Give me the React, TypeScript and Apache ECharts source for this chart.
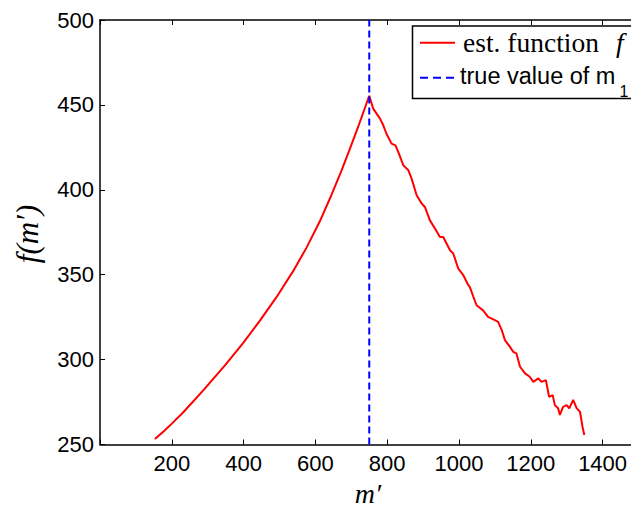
import React, { useEffect, useRef } from "react";
import * as echarts from "echarts";

// estimated function f(m')
const mValues = [
  153, 180, 200, 232, 287, 348, 399, 445, 492, 538, 575, 612, 645, 673,
  696, 719, 738, 750,
  761, 780, 789, 798, 812, 823, 831, 845, 859, 868, 882, 896, 905, 919, 933,
  947, 956, 975, 984, 998, 1012, 1026, 1030, 1040, 1049, 1067, 1081, 1100,
  1109, 1119, 1128, 1142, 1151, 1160, 1170, 1184, 1197, 1207, 1221, 1230,
  1242, 1251, 1261, 1267, 1276, 1281, 1290, 1300, 1307, 1318, 1328, 1337,
  1344, 1349,
];
const fValues = [
  253.2, 258.3, 262.3, 269.0, 281.7, 296.6, 309.9, 322.8, 336.9, 352.1, 365.8,
  381.3, 397.1, 411.4, 424.1, 437.0, 448.3, 455.4,
  447.8, 441.9, 438.0, 433.0, 427.2, 426.2, 422.2, 414.4, 411.5, 406.6, 396.8,
  391.9, 389.9, 382.0, 377.2, 372.2, 372.2, 364.4, 362.5, 353.6, 349.7, 343.8,
  342.8, 337.0, 332.0, 329.0, 325.2, 323.2, 322.2, 317.4, 311.5, 307.5, 304.6,
  303.6, 295.8, 291.9, 289.9, 286.9, 288.9, 286.9, 287.9, 278.1, 279.1, 273.2,
  271.3, 267.4, 272.2, 273.2, 271.3, 276.2, 271.3, 269.3, 260.5, 255.6,
];
const trueM1 = 750;

const xMin = 0;
const xMax = 1500;
const xStep = 200;
const yMin = 250;
const yMax = 500;
const yStep = 50;

const legendFunction = "est. function ";
const legendFunctionSymbol = "f";
const legendTrue = "true value of m";
const legendTrueSub = "1";
const xTitle = "m\u2032";
const yTitle = "f(m\u2032)";

export default function App() {
  const ref = useRef<HTMLDivElement>(null);
  useEffect(() => {
    const chart = echarts.init(ref.current!, null, { renderer: "svg" });
    const sans = "'Liberation Sans', Arial, Helvetica, sans-serif";
    const serif = "'Liberation Serif', 'Times New Roman', serif";
    const axisLine = { show: true, onZero: false, lineStyle: { color: "#000", width: 1.5 } };
    const axisTick = { show: true, inside: true, length: 5, lineStyle: { color: "#000", width: 1 } };
    chart.setOption({
      animation: false,
      backgroundColor: "#fff",
      grid: { left: 100, right: 1.5, top: 20, bottom: 65.5, containLabel: false },
      xAxis: [
        {
          type: "value", min: xMin, max: xMax, interval: xStep, position: "bottom",
          axisLine, axisTick,
          axisLabel: {
            show: true, margin: 8, fontSize: 22, color: "#000", fontFamily: sans,
            showMaxLabel: false,
            formatter: (v: number) => (v === 0 ? "" : String(v)),
          },
          splitLine: { show: false },
        },
        {
          type: "value", min: xMin, max: xMax, interval: xStep, position: "top",
          axisLine, axisTick, axisLabel: { show: false }, splitLine: { show: false },
        },
      ],
      yAxis: [
        {
          type: "value", min: yMin, max: yMax, interval: yStep, position: "left",
          axisLine, axisTick,
          axisLabel: { show: true, margin: 6, fontSize: 22, color: "#000", fontFamily: sans },
          splitLine: { show: false },
        },
        {
          type: "value", min: yMin, max: yMax, interval: yStep, position: "right",
          axisLine, axisTick, axisLabel: { show: false }, splitLine: { show: false },
        },
      ],
      series: [
        {
          type: "line",
          data: mValues.map((m, i) => [m, fValues[i]]),
          symbol: "none",
          showSymbol: false,
          lineStyle: { color: "#ff0000", width: 2 },
          z: 2,
        },
        {
          type: "line",
          data: [[trueM1, yMin], [trueM1, yMax]],
          symbol: "none",
          showSymbol: false,
          lineStyle: { color: "#0000ff", width: 2, type: [7, 4] },
          z: 3,
        },
      ],
      graphic: [
        {
          type: "rect", z: 100,
          shape: { x: 412.5, y: 26, width: 240, height: 72.5 },
          style: { fill: "#fff", stroke: "#000", lineWidth: 1.5 },
        },
        {
          type: "line", z: 101,
          shape: { x1: 420, y1: 42.7, x2: 455, y2: 42.7 },
          style: { stroke: "#ff0000", lineWidth: 2 },
        },
        {
          type: "line", z: 101,
          shape: { x1: 420, y1: 77.7, x2: 455, y2: 77.7 },
          style: { stroke: "#0000ff", lineWidth: 2, lineDash: [8, 5] },
        },
        {
          type: "text", z: 101, x: 463, y: 42.7,
          style: { text: legendFunction, fill: "#000", fontSize: 27.5, fontFamily: serif, align: "left", verticalAlign: "middle" },
        },
        {
          type: "text", z: 101, x: 616, y: 42.7,
          style: { text: legendFunctionSymbol, fill: "#000", fontSize: 27.5, fontStyle: "italic", fontFamily: serif, align: "left", verticalAlign: "middle" },
        },
        {
          type: "text", z: 101, x: 460, y: 75.5,
          style: { text: legendTrue, fill: "#000", fontSize: 23.5, fontFamily: sans, align: "left", verticalAlign: "middle" },
        },
        {
          type: "text", z: 101, x: 619.5, y: 91,
          style: { text: legendTrueSub, fill: "#000", fontSize: 16, fontFamily: sans, align: "left", verticalAlign: "middle" },
        },
        {
          type: "text", z: 101, x: 368, y: 493,
          style: { text: xTitle, fill: "#000", fontSize: 28, fontStyle: "italic", fontFamily: serif, align: "center", verticalAlign: "middle" },
        },
        {
          type: "text", z: 101, x: 27, y: 234, rotation: Math.PI / 2,
          style: { text: yTitle, fill: "#000", fontSize: 31, fontStyle: "italic", fontFamily: serif, align: "center", verticalAlign: "middle" },
        },
      ],
    });
    return () => chart.dispose();
  }, []);
  return (
    <div style={{ position: "fixed", left: 0, top: 0, width: 631, height: 510, overflow: "hidden", background: "#fff" }}>
      <div ref={ref} style={{ width: 640, height: 510 }} />
    </div>
  );
}
